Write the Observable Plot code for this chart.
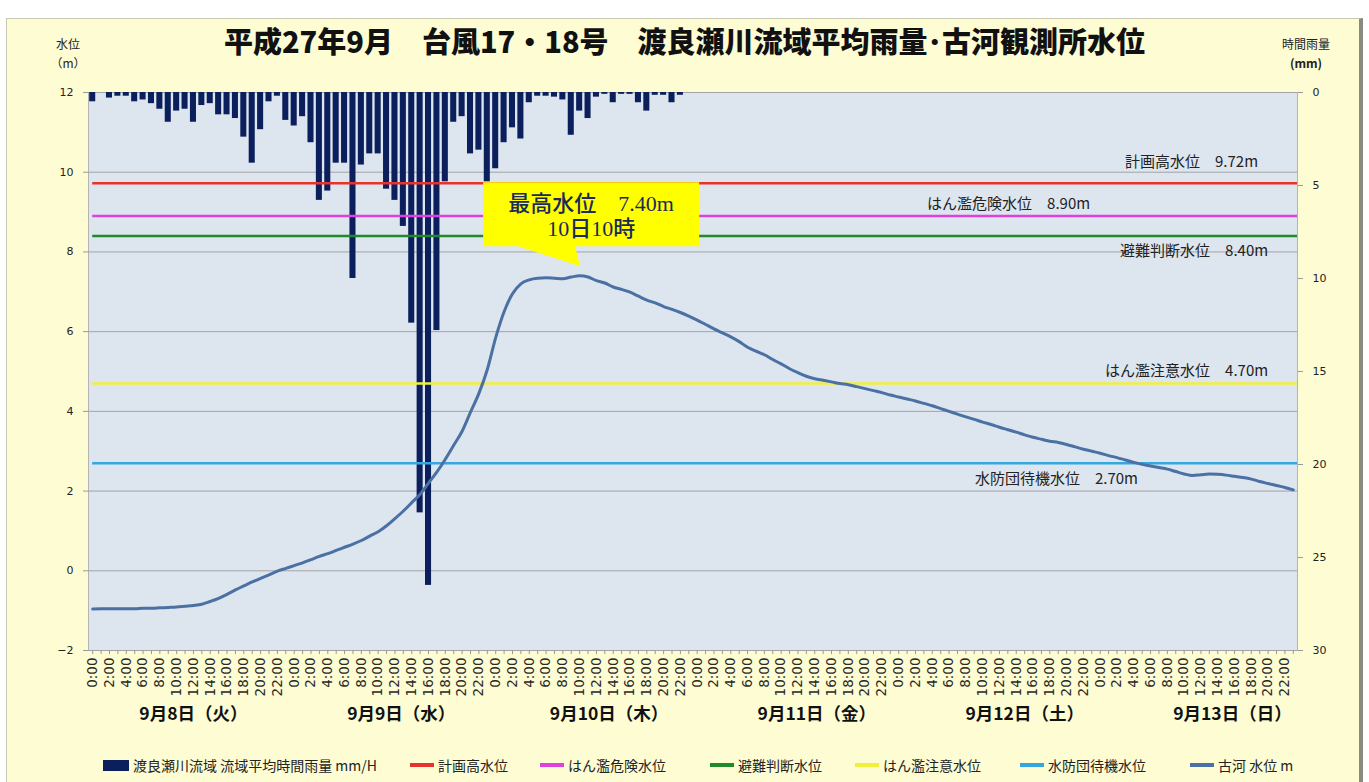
<!DOCTYPE html>
<html>
<head>
<meta charset="utf-8">
<script src="https://cdn.jsdelivr.net/npm/d3@7"></script>
<script src="https://cdn.jsdelivr.net/npm/@observablehq/plot@0.6"></script>
<style>
  html, body { margin: 0; padding: 0; background: #ffffff; }
  body { width: 1369px; height: 782px; position: relative; overflow: hidden;
         font-family: "Noto Sans CJK JP", "Noto Sans", sans-serif; }
  #frame { position: absolute; left: 6px; top: 18px; width: 1352px; height: 770px;
           background: #fdfcd2; border-top: 1px solid #c9c9b4; border-left: 1px solid #c9c9b4;
           border-right: 4px solid #8a8a80; }
  #chart { position: absolute; left: 0; top: 0; }
  #title { position: absolute; left: 0; width: 1369px; top: 19px; text-align: center;
           font-size: 29px; font-weight: 900; color: #111; }
  .unit { position: absolute; font-size: 12px; color: #222; text-align: center; line-height: 19px; }
  #legend { position: absolute; top: 755px; left: 0; width: 1369px; height: 20px; font-size: 14px; color: #222; }
  .item { position: absolute; top: 0; display: flex; align-items: center; white-space: nowrap; }
  .sw { display: inline-block; width: 24px; margin-right: 4px; }
</style>
</head>
<body>
<div id="frame"></div>
<div id="chart"></div>
<div id="title"></div>
<div class="unit" id="unitL" style="left:48px; top:34px; width:40px;"></div>
<div class="unit" id="unitR" style="left:1276px; top:34px; width:60px;"></div>
<div id="legend"></div>
<script>
// ---------------- data ----------------
const titleText = "平成27年9月　台風17・18号　渡良瀬川流域平均雨量･古河観測所水位";
const dayLabels = ["9月8日（火）", "9月9日（水）", "9月10日（木）", "9月11日（金）", "9月12日（土）", "9月13日（日）"];
const hourLabels = d3.range(144).map(i => `${i % 24}:00`);
const levelTicks = [-2, 0, 2, 4, 6, 8, 10, 12];
const rainTicks = [0, 5, 10, 15, 20, 25, 30];

// 渡良瀬川流域 流域平均時間雨量 (mm/H), hourly from 9/8 0:00
const rainfall = [
  0.5, 0, 0.3, 0.2, 0.2, 0.5, 0.4, 0.6, 0.9, 1.6, 1.0, 0.9, 1.6, 0.7, 0.6, 1.2, 1.2, 1.4, 2.4, 3.8, 2.0, 0.5, 0.2, 1.5,
  1.8, 1.3, 2.7, 5.8, 5.3, 3.8, 3.8, 10.0, 3.9, 3.3, 3.3, 5.2, 5.8, 7.2, 12.4, 22.6, 26.5, 12.8, 4.8, 1.6, 1.3, 3.3, 3.1, 4.8,
  4.1, 2.7, 1.9, 2.5, 0.55, 0.2, 0.2, 0.25, 0.4, 2.3, 1.0, 1.4, 0.25, 0.1, 0.55, 0.1, 0.1, 0.55, 1.0, 0.15, 0.15, 0.55, 0.15, 0,
  0, 0, 0, 0, 0, 0, 0, 0, 0, 0, 0, 0, 0, 0, 0, 0, 0, 0, 0, 0, 0, 0, 0, 0,
  0, 0, 0, 0, 0, 0, 0, 0, 0, 0, 0, 0, 0, 0, 0, 0, 0, 0, 0, 0, 0, 0, 0, 0,
  0, 0, 0, 0, 0, 0, 0, 0, 0, 0, 0, 0, 0, 0, 0, 0, 0, 0, 0, 0, 0, 0, 0, 0
];

// 古河 水位 (m), hourly from 9/8 0:00
const waterLevel = [
  -0.96, -0.95, -0.95, -0.95, -0.95, -0.95, -0.94, -0.94, -0.93, -0.92, -0.91, -0.89, -0.87, -0.84, -0.77, -0.69, -0.59, -0.48, -0.38, -0.28, -0.19, -0.10, -0.01, 0.06,
  0.13, 0.20, 0.28, 0.36, 0.43, 0.51, 0.59, 0.67, 0.76, 0.87, 0.98, 1.13, 1.31, 1.50, 1.71, 1.92, 2.20, 2.48, 2.80, 3.15, 3.50, 3.98, 4.45, 5.05,
  5.85, 6.50, 6.95, 7.20, 7.30, 7.34, 7.35, 7.34, 7.33, 7.37, 7.40, 7.37, 7.28, 7.22, 7.12, 7.06, 6.99, 6.89, 6.79, 6.72, 6.63, 6.56, 6.48, 6.39,
  6.29, 6.18, 6.07, 5.97, 5.87, 5.75, 5.61, 5.51, 5.42, 5.30, 5.19, 5.07, 4.97, 4.88, 4.82, 4.78, 4.74, 4.70, 4.67, 4.62, 4.57, 4.52, 4.47, 4.41,
  4.36, 4.31, 4.26, 4.20, 4.14, 4.07, 4.00, 3.93, 3.86, 3.80, 3.73, 3.67, 3.60, 3.54, 3.48, 3.41, 3.35, 3.30, 3.25, 3.22, 3.17, 3.11, 3.05, 3.00,
  2.95, 2.89, 2.84, 2.78, 2.72, 2.67, 2.63, 2.59, 2.55, 2.49, 2.43, 2.39, 2.41, 2.43, 2.42, 2.40, 2.37, 2.34, 2.30, 2.24, 2.19, 2.14, 2.09, 2.03
];

const thresholdNames = ["計画高水位", "はん濫危険水位", "避難判断水位", "はん濫注意水位", "水防団待機水位"];
const thresholdValues = [9.72, 8.90, 8.40, 4.70, 2.70];
const rainSeriesName = "渡良瀬川流域 流域平均時間雨量 mm/H";
const levelSeriesName = "古河 水位 m";

// ---------------- styles / layout ----------------
const thresholdColors = ["#e8322c", "#e040e0", "#1f8a2a", "#f0f03a", "#33a8e0"];
// label anchor (hour position of right end) and vertical pixel offset for each threshold label
const thresholdLabelLayout = [
  {x: 138.8, dy: -21}, {x: 118.8, dy: -12}, {x: 140.0, dy: 15}, {x: 140.0, dy: -12}, {x: 124.5, dy: 16}
];
const rainColor = "#0b1f5c";
const levelColor = "#4a70a4";
const rainToY = mm => 12 - mm * (14 / 30);   // map right-axis mm onto left-axis metres
const yToRain = y => (12 - y) * 30 / 14;

document.getElementById("title").textContent = titleText;
document.getElementById("unitL").innerHTML = "水位<br>（m）";
document.getElementById("unitR").innerHTML = "時間雨量<br><b>(mm)</b>";

const rainData = rainfall.map((mm, i) => ({i, mm})).filter(d => d.mm > 0);
const levelData = waterLevel.map((v, i) => ({i, v}));
const thresholds = thresholdNames.map((name, k) => ({name, value: thresholdValues[k], color: thresholdColors[k], ...thresholdLabelLayout[k]}));

const plot = Plot.plot({
  width: 1369,
  height: 740,
  marginLeft: 88,
  marginRight: 72,
  marginTop: 92,
  marginBottom: 90,
  style: {background: "transparent", fontFamily: "'DejaVu Sans', 'Noto Sans CJK JP', sans-serif", fontSize: "11px", color: "#222", overflow: "visible"},
  x: {type: "linear", domain: [-0.5, 143.5]},
  y: {domain: [-2, 12]},
  marks: [
    Plot.frame({fill: "#dde5ef", stroke: "#b4b4b4"}),
    Plot.gridY(levelTicks, {stroke: "#a4a4a4", strokeOpacity: 1}),
    Plot.axisY(levelTicks, {anchor: "left", label: null, tickSize: 5, tickPadding: 10, stroke: "#999", fontSize: 11}),
    Plot.axisY(rainTicks.map(rainToY), {anchor: "right", label: null, tickSize: 5, tickPadding: 10, stroke: "#999", fontSize: 11,
      tickFormat: d => String(Math.round(yToRain(d)))}),
    Plot.axisX(d3.range(144), {anchor: "bottom", label: null, tickSize: 4, tickPadding: 3, tickRotate: -90, stroke: "#999",
      fontSize: 13.5, fill: "#2a2a2a", tickFormat: i => (i % 2 === 0 ? hourLabels[i] : "")}),
    Plot.text(dayLabels, {x: (d, k) => 24 * k + 12 + 0.75 * k, frameAnchor: "bottom", dy: 69, text: d => d,
      fontSize: 17.5, fontWeight: "bold", fill: "#111", fontFamily: "'Noto Sans CJK JP', sans-serif"}),
    Plot.rect(rainData, {x1: d => d.i - 0.36, x2: d => d.i + 0.36, y1: 12, y2: d => rainToY(d.mm), fill: rainColor}),
    ...thresholds.map(t => Plot.ruleY([t.value], {x1: 0, x2: 143.5, stroke: t.color, strokeWidth: 2.5})),
    Plot.text(thresholds, {x: "x", y: "value", text: d => `${d.name}　${d.value.toFixed(2)}m`,
      textAnchor: "end", fontSize: 15, fill: "#222", fontFamily: "'Noto Sans CJK JP', sans-serif"}),
    Plot.line(levelData, {x: "i", y: "v", stroke: levelColor, strokeWidth: 3, curve: "monotone-x"})
  ]
});
document.getElementById("chart").appendChild(plot);

// threshold label vertical offsets (per label)
{
  const sx = plot.scale("x"), sy = plot.scale("y");
  d3.select(plot).selectAll("text").filter(function() {
    return thresholdNames.some(n => this.textContent.startsWith(n));
  }).each(function() {
    const k = thresholdNames.findIndex(n => this.textContent.startsWith(n));
    d3.select(this).attr("transform", null)
      .attr("x", sx.apply(thresholds[k].x))
      .attr("y", sy.apply(thresholds[k].value) + thresholds[k].dy)
      .attr("dy", "0.32em");
  });
}

// callout for peak water level
{
  const sx = plot.scale("x"), sy = plot.scale("y");
  const pi = d3.maxIndex(waterLevel);
  const px = sx.apply(pi), py = sy.apply(waterLevel[pi]);
  const g = d3.select(plot).append("g");
  const top = py - 93, bottom = py - 29, left = px - 96, right = px + 120;
  g.append("path")
    .attr("d", `M${left},${top}H${right}V${bottom}H${px - 4}L${px + 1},${py - 9}L${px - 61},${bottom}H${left}Z`)
    .attr("fill", "#ffff00");
  const cx = (left + right) / 2;
  const font = "'Liberation Serif', 'Noto Sans CJK JP', serif";
  g.append("text").attr("x", cx).attr("y", top + 21).attr("dy", "0.35em").attr("text-anchor", "middle")
    .attr("font-size", 22).attr("fill", "#1b2a5a").attr("font-family", font).attr("font-weight", 500)
    .text(`最高水位　${waterLevel[pi].toFixed(2)}m`);
  g.append("text").attr("x", cx).attr("y", top + 46).attr("dy", "0.35em").attr("text-anchor", "middle")
    .attr("font-size", 22).attr("fill", "#1b2a5a").attr("font-family", font).attr("font-weight", 500)
    .text(`${8 + Math.floor(pi / 24)}日${pi % 24}時`);
}

// legend
{
  const legendItems = [
    {name: rainSeriesName, color: rainColor, box: true},
    ...thresholds.map(t => ({name: t.name, color: t.color})),
    {name: levelSeriesName, color: levelColor}
  ];
  const legendLeft = [103, 410, 540, 710, 855, 1020, 1190];
  const lg = document.getElementById("legend");
  legendItems.forEach((it, k) => {
    const div = document.createElement("div");
    div.className = "item";
    div.style.left = legendLeft[k] + "px";
    const sw = document.createElement("span");
    sw.className = "sw";
    sw.style.background = it.color;
    sw.style.height = it.box ? "11px" : "4px";
    if (it.box) sw.style.width = "26px";
    div.appendChild(sw);
    const tx = document.createElement("span");
    tx.textContent = it.name;
    div.appendChild(tx);
    lg.appendChild(div);
  });
}
</script>
</body>
</html>
